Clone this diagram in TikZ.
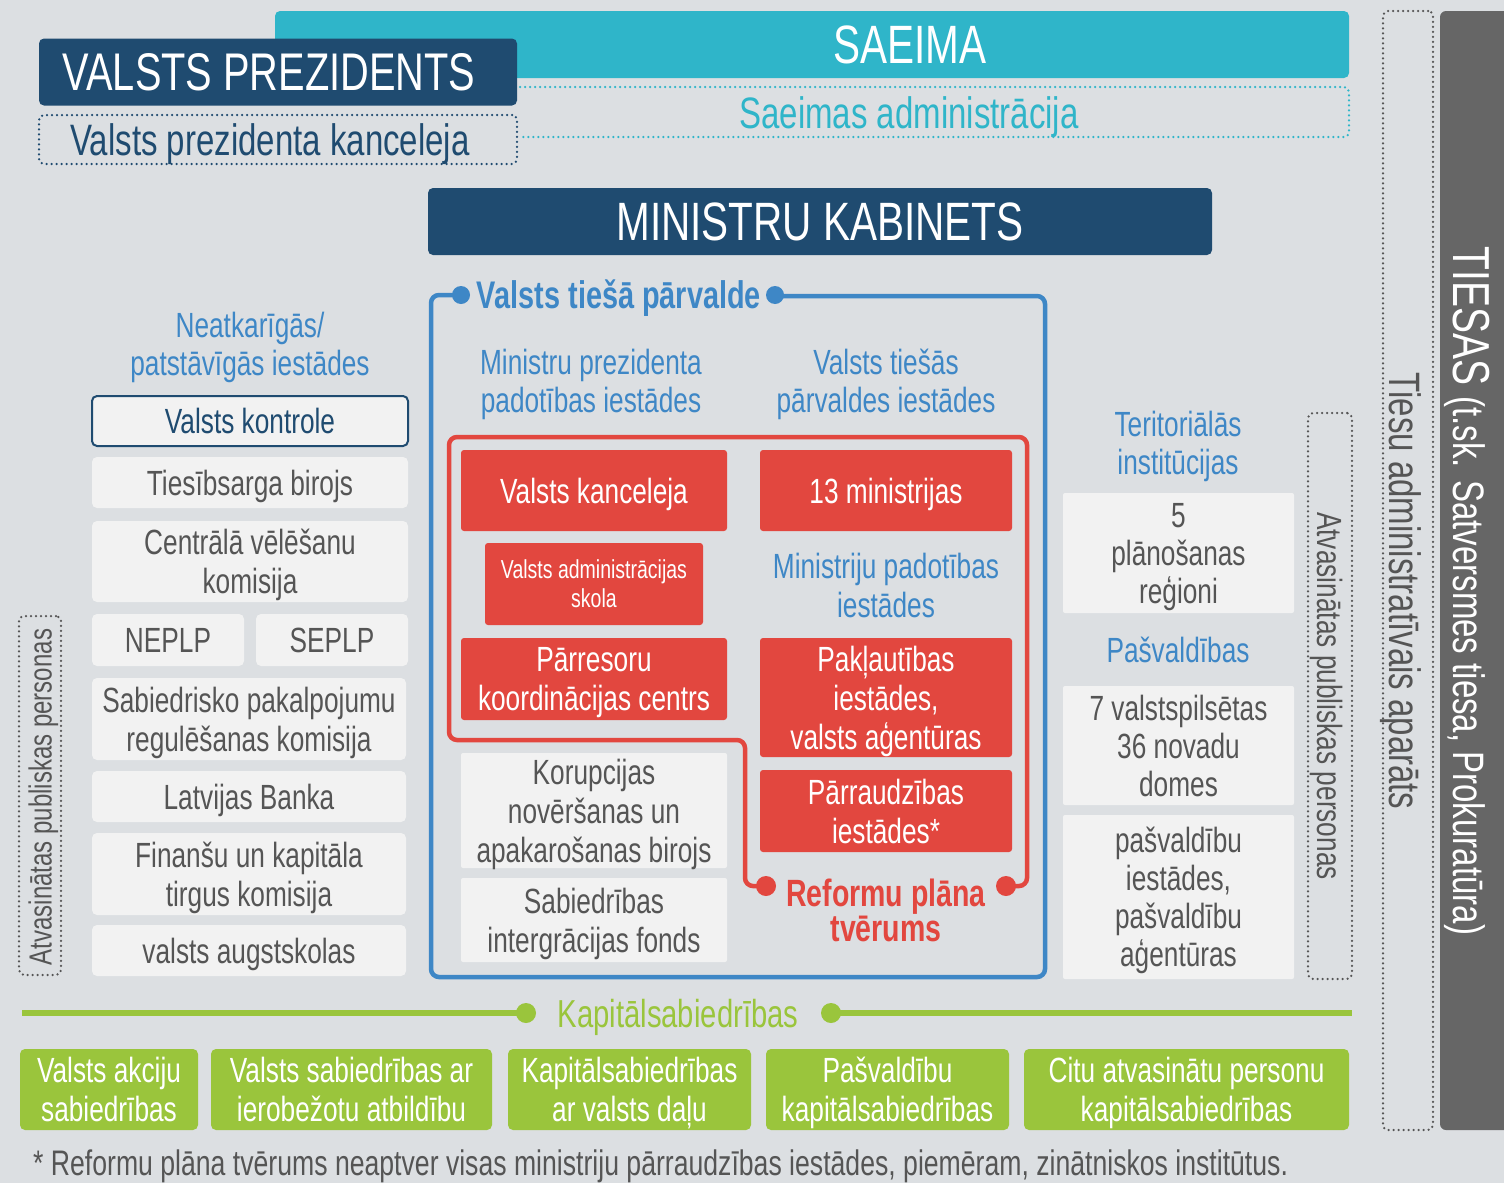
\documentclass[tikz,border=0pt]{standalone}
\usepackage{fontspec}
\setmainfont[FakeStretch=0.75]{Liberation Sans}

\definecolor{bggray}{RGB}{220,223,226}
\definecolor{saeimateal}{RGB}{47,181,201}
\definecolor{darkblue}{RGB}{31,75,112}
\definecolor{headblue}{RGB}{62,135,198}
\definecolor{redfill}{RGB}{226,71,63}
\definecolor{greenfill}{RGB}{154,197,60}
\definecolor{boxwhite}{RGB}{242,242,242}
\definecolor{txtgray}{RGB}{85,85,85}
\definecolor{courtgray}{RGB}{102,102,102}

\newcommand{\setfs}[2]{\fontsize{#1}{#2}\selectfont}

\begin{document}
\begin{tikzpicture}[
    x=1pt, y=-1pt,
    text centered,
    every node/.append style={text depth=0pt},
	boxsize/.style 2 args={
	  minimum width=#1,
	  minimum height=#2
	},
	wbox/.style={
	  rectangle,
	  rounded corners=5pt,
	  inner sep=0pt,
	  fill=boxwhite,
	  text=txtgray,
	  align=center,
	  font=\setfs{35}{39}
	},
	rbox/.style={
	  rectangle,
	  rounded corners=3pt,
	  inner sep=0pt,
	  fill=redfill,
	  text=white,
	  align=center,
	  font=\setfs{35}{39}
	},
	gbox/.style={
	  rectangle,
	  rounded corners=5pt,
	  inner sep=0pt,
	  fill=greenfill,
	  text=white,
	  align=center,
	  font=\setfs{35}{39}
	},
	bar/.style={
	  rectangle,
	  rounded corners=5pt,
	  inner sep=0pt,
	  text=white,
	  font=\setfs{54}{60}
	},
	head/.style={
	  text=headblue,
	  align=center,
	  font=\setfs{35}{38}
	},
	dots/.style={line width=2.5pt, line cap=round, dash pattern=on 0pt off 5pt},
	frame/.style={line width=4.5pt, rounded corners=8pt}
	]
	\fill[bggray] (0,0) rectangle (1504,1183);
	\useasboundingbox (0,0) rectangle (1504,1183);
	% top: Saeima and president
	\node at (812,44.5) [bar, fill=saeimateal, boxsize={1074}{67}] (saeima) {};
	\node at (910,45) [text=white, font=\setfs{54}{60}] (saeimatext) {SAEIMA};
	\draw[saeimateal, dots, rounded corners=5pt] (520,87) -- (1349,87) -- (1349,137) -- (519,137);
	\node at (909,113) [text=saeimateal, font=\setfs{44}{48}] (saeimasadm) {Saeimas administrācija};
	\node at (278,72) [bar, fill=darkblue, boxsize={478}{67}] (prezidents) {};
	\node at (269,72) [text=white, font=\setfs{53}{60}] (prezidentstext) {VALSTS PREZIDENTS};
	\node at (278,139.5) [boxsize={478}{49}, draw=darkblue, dots, rounded corners=5pt] (prezkanceleja) {};
	\node at (270,139.5) [text=darkblue, font=\setfs{44}{48}] (prezkancelejatext) {Valsts prezidenta kanceleja};
	\node at (820,221.5) [bar, fill=darkblue, boxsize={784}{67}] (mk) {MINISTRU KABINETS};
	% courts
	\fill[courtgray, rounded corners=6pt] (1440,11) rectangle (1515,1130);
	\node at (1472,591) [rotate=-90, text=white] (tiesas) {\setfs{52}{56}TIESAS \setfs{44}{48}(t.sk. Satversmes tiesa, Prokuratūra)};
	\node at (1408,570.5) [boxsize={50}{1119}, draw=txtgray, dots, rounded corners=5pt] (tiesuapar) {};
	\node at (1405,591) [rotate=-90, text=txtgray, font=\setfs{44}{48}] (tiesuapartext) {Tiesu administratīvais aparāts};
	% left column
	\node at (250,344) [head] (neatkarigas) {Neatkarīgās/\\patstāvīgās iestādes};
	\node at (250,421) [wbox, boxsize={316}{50}, draw=darkblue, line width=2pt, text=darkblue] (kontrole) {Valsts kontrole};
	\node at (250,482.5) [wbox, boxsize={316}{51}] (tiesibsargs) {Tiesībsarga birojs};
	\node at (250,561.5) [wbox, boxsize={316}{81}] (cvk) {Centrālā vēlēšanu\\komisija};
	\node at (168,640) [wbox, boxsize={152}{52}] (neplp) {NEPLP};
	\node at (332,640) [wbox, boxsize={152}{52}] (seplp) {SEPLP};
	\node at (249,719) [wbox, boxsize={314}{82}] (sprk) {Sabiedrisko pakalpojumu\\regulēšanas komisija};
	\node at (249,796.5) [wbox, boxsize={314}{51}] (banka) {Latvijas Banka};
	\node at (249,874) [wbox, boxsize={314}{82}] (fktk) {Finanšu un kapitāla\\tirgus komisija};
	\node at (249,950.5) [wbox, boxsize={314}{51}] (augstskolas) {valsts augstskolas};
	\node at (40,795.5) [boxsize={42}{359}, draw=txtgray, dots, rounded corners=5pt] (atvasleft) {};
	\node at (40,797) [rotate=90, text=txtgray, font=\setfs{32}{36}] (atvaslefttext) {Atvasinātas publiskas personas};
	% direct administration
	\draw[headblue, frame] (461,295) -- (431,295) -- (431,977) -- (1045,977) -- (1045,296) -- (775,296);
	\fill[headblue] (461,295) circle (9pt) (775,295) circle (9pt);
	\node at (619,294) [text=headblue, font=\bfseries\setfs{38.5}{40}] (tiesapv) {Valsts tiešā pārvalde};
	\node at (591,381) [head] (mpiestades) {Ministru prezidenta\\padotības iestādes};
	\node at (886,381) [head] (vtpiestades) {Valsts tiešās\\pārvaldes iestādes};
	\draw[redfill, frame] (766,886) -- (745,886) -- (745,740) -- (449,740) -- (449,437) -- (1027,437) -- (1027,886) -- (1006,886);
	\fill[redfill] (766,886) circle (10pt) (1006,886) circle (10pt);
	\node at (594,490.5) [rbox, boxsize={266}{81}] (vkanceleja) {Valsts kanceleja};
	\node at (886,490.5) [rbox, boxsize={252}{81}] (ministrijas) {13 ministrijas};
	\node at (594,584) [rbox, boxsize={218}{82}, font=\setfs{26}{29}] (vas) {Valsts administrācijas\\skola};
	\node at (886,585) [head, font=\setfs{35}{39}] (minpadotibas) {Ministriju padotības\\iestādes};
	\node at (594,679) [rbox, boxsize={266}{82}] (pkc) {Pārresoru\\koordinācijas centrs};
	\node at (886,697.5) [rbox, boxsize={252}{119}] (paklautibas) {Pakļautības\\iestādes,\\valsts aģentūras};
	\node at (886,811) [rbox, boxsize={252}{82}] (parraudzibas) {Pārraudzības\\iestādes*};
	\node at (594,810.5) [wbox, boxsize={266}{115}, rounded corners=2pt] (knab) {Korupcijas\\novēršanas un\\apakarošanas birojs};
	\node at (594,920) [wbox, boxsize={266}{84}, rounded corners=2pt] (sif) {Sabiedrības\\intergrācijas fonds};
	\node at (886,910) [text=redfill, align=center, font=\bfseries\setfs{38}{35}] (reforma) {Reformu plāna\\tvērums};
	% territorial and local
	\node at (1178,443) [head] (teritorialas) {Teritoriālās\\institūcijas};
	\node at (1178.5,553) [wbox, boxsize={231}{120}, rounded corners=2pt, font=\setfs{35}{38}] (regioni) {5\\plānošanas\\reģioni};
	\node at (1178,650) [head] (pasvaldibas) {Pašvaldības};
	\node at (1178.5,745.5) [wbox, boxsize={231}{119}, rounded corners=2pt, font=\setfs{35}{38}] (domes) {7 valstspilsētas\\36 novadu\\domes};
	\node at (1178.5,897) [wbox, boxsize={231}{164}, rounded corners=2pt, font=\setfs{35}{38}] (pasvestades) {pašvaldību\\iestādes,\\pašvaldību\\aģentūras};
	\node at (1330,696) [boxsize={44}{566}, draw=txtgray, dots, rounded corners=5pt] (atvasright) {};
	\node at (1330,696) [rotate=-90, text=txtgray, font=\setfs{35}{38}] (atvasrighttext) {Atvasinātas publiskas personas};
	% companies
	\draw[greenfill, line width=6pt] (22,1013) -- (526,1013) (831,1013) -- (1352,1013);
	\fill[greenfill] (526,1013) circle (10pt) (831,1013) circle (10pt);
	\node at (678,1013) [text=greenfill, font=\setfs{39}{40}] (kapsab) {Kapitālsabiedrības};
	\node at (109,1089.5) [gbox, boxsize={178}{81}] (vas1) {Valsts akciju\\sabiedrības};
	\node at (351.5,1089.5) [gbox, boxsize={281}{81}] (sia) {Valsts sabiedrības ar\\ierobežotu atbildību};
	\node at (629.5,1089.5) [gbox, boxsize={243}{81}] (vdala) {Kapitālsabiedrības\\ar valsts daļu};
	\node at (887.5,1089.5) [gbox, boxsize={243}{81}] (pkapsab) {Pašvaldību\\kapitālsabiedrības};
	\node at (1186.5,1089.5) [gbox, boxsize={325}{81}] (citu) {Citu atvasinātu personu\\kapitālsabiedrības};
	\node at (33,1163) [anchor=west, inner sep=0pt, text=txtgray, font=\setfs{35.5}{38}] (piezime) {* Reformu plāna tvērums neaptver visas ministriju pārraudzības iestādes, piemēram, zinātniskos institūtus.};
  \end{tikzpicture}
\end{document}
